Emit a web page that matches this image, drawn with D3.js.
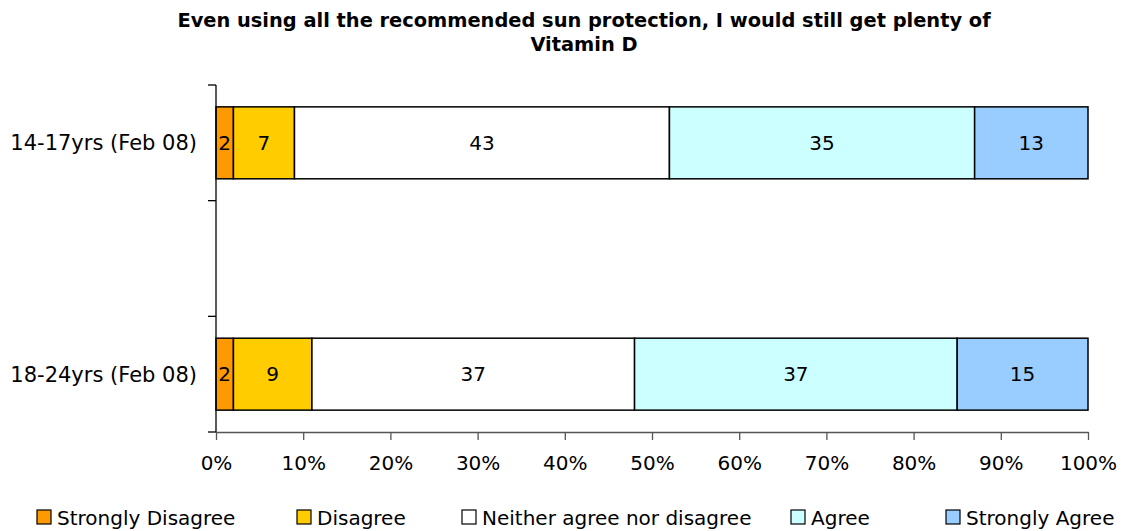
<!DOCTYPE html>
<html>
<head>
<meta charset="utf-8">
<script src="https://cdn.jsdelivr.net/npm/d3@7"></script>
<style>
  html, body { margin: 0; padding: 0; background: #fff; }
  svg { display: block; font-family: "DejaVu Sans", Verdana, sans-serif; }
</style>
</head>
<body>
<svg id="chart" width="1126" height="531"></svg>
<script>
// Survey responses (percent) per age group
const groups = ["14-17yrs (Feb 08)", "18-24yrs (Feb 08)"];
const responses = ["Strongly Disagree", "Disagree", "Neither agree nor disagree", "Agree", "Strongly Agree"];
const stronglyDisagree = [2, 2];
const disagree = [7, 9];
const neither = [43, 37];
const agree = [35, 37];
const stronglyAgree = [13, 15];
const colors = ["#FF9900", "#FFCC00", "#FFFFFF", "#CCFFFF", "#99CCFF"];
const xTicks = [0, 10, 20, 30, 40, 50, 60, 70, 80, 90, 100];
const titleLines = ["Even using all the recommended sun protection, I would still get plenty of", "Vitamin D"];

const seriesValues = [stronglyDisagree, disagree, neither, agree, stronglyAgree];
const rows = groups.map((g, i) => {
  const r = { group: g };
  responses.forEach((k, j) => { r[k] = seriesValues[j][i]; });
  return r;
});

const svg = d3.select("#chart");
const margin = { left: 216, right: 38, top: 85, bottom: 99 };
const W = 1126, H = 531;
const FS = 20;

const x = d3.scaleLinear().domain([0, 100]).range([margin.left, W - margin.right]);
// Category slots: the two groups sit in the outer slots with an empty slot between them
const slots = [groups[0], "__gap__", groups[1]];
const y = d3.scaleBand().domain(slots).range([margin.top, H - margin.bottom]).paddingInner(0.378).paddingOuter(0.189);
const slotStep = (H - margin.bottom - margin.top) / slots.length;

const stack = d3.stack().keys(responses);
const stacked = stack(rows);
const color = d3.scaleOrdinal().domain(responses).range(colors);

// Title
svg.append("text")
  .attr("x", 584).attr("y", 27)
  .attr("text-anchor", "middle")
  .attr("font-weight", "bold")
  .attr("font-size", 19.4)
  .selectAll("tspan").data(titleLines).join("tspan")
  .attr("x", 584).attr("dy", (d, i) => i === 0 ? 0 : 24)
  .text(d => d);

// Bars
const layer = svg.append("g").selectAll("g").data(stacked).join("g")
  .attr("fill", d => color(d.key));

layer.selectAll("rect").data(d => d).join("rect")
  .attr("x", d => x(d[0]))
  .attr("y", d => y(d.data.group))
  .attr("width", d => x(d[1]) - x(d[0]))
  .attr("height", y.bandwidth())
  .attr("stroke", "#000")
  .attr("stroke-width", 1.5);

// Segment value labels
layer.selectAll("text").data(d => d.map(v => Object.assign(v, { key: d.key }))).join("text")
  .attr("x", d => (x(d[0]) + x(d[1])) / 2)
  .attr("y", d => y(d.data.group) + y.bandwidth() / 2)
  .attr("dy", "0.36em")
  .attr("text-anchor", "middle")
  .attr("font-size", FS)
  .attr("fill", "#000")
  .text(d => d.data[d.key]);

// X axis
const xAxis = svg.append("g")
  .attr("transform", `translate(0,${H - margin.bottom})`)
  .call(d3.axisBottom(x).tickValues(xTicks).tickFormat(d => d + "%").tickSizeInner(8).tickSizeOuter(0).tickPadding(16));
xAxis.selectAll("text").attr("font-size", FS).attr("font-family", "DejaVu Sans, Verdana, sans-serif").attr("fill", "#000");
xAxis.selectAll("line, path").attr("stroke", "#555").attr("stroke-width", 1.3);

// Y axis with ticks at slot boundaries
const yAxisG = svg.append("g");
yAxisG.append("line")
  .attr("x1", margin.left).attr("x2", margin.left)
  .attr("y1", margin.top).attr("y2", H - margin.bottom)
  .attr("stroke", "#000").attr("stroke-width", 1.3);
yAxisG.selectAll("line.tick").data(d3.range(slots.length + 1)).join("line")
  .attr("class", "tick")
  .attr("x1", margin.left - 8).attr("x2", margin.left)
  .attr("y1", d => margin.top + d * slotStep).attr("y2", d => margin.top + d * slotStep)
  .attr("stroke", "#000").attr("stroke-width", 1.3);
yAxisG.selectAll("text").data(groups).join("text")
  .attr("x", margin.left - 19)
  .attr("y", d => y(d) + y.bandwidth() / 2)
  .attr("dy", "0.36em")
  .attr("text-anchor", "end")
  .attr("font-size", 21)
  .text(d => d);

// Legend
const legendX = [37, 297, 462, 791, 946];
const legend = svg.append("g").selectAll("g").data(responses).join("g")
  .attr("transform", (d, i) => `translate(${legendX[i]},510)`);
legend.append("rect")
  .attr("width", 14).attr("height", 14)
  .attr("fill", d => color(d))
  .attr("stroke", "#000").attr("stroke-width", 1.2);
legend.append("text")
  .attr("x", 20).attr("y", 8)
  .attr("dy", "0.36em")
  .attr("font-size", FS)
  .text(d => d);
</script>
</body>
</html>
